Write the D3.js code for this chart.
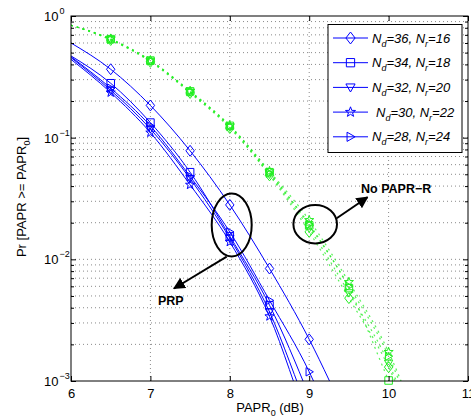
<!DOCTYPE html>
<html>
<head>
<meta charset="utf-8">
<script src="https://cdn.jsdelivr.net/npm/d3@7"></script>
<style>
  body { margin: 0; background: #fff; }
  text { font-family: "Liberation Sans", Arial, sans-serif; }
</style>
</head>
<body>
<script>
// PAPR thresholds (dB)
let xs = [6, 6.5, 7, 7.5, 8, 8.5, 9, 9.5]
let xsNo = [6, 6.5, 7, 7.5, 8, 8.5, 9, 9.5, 10, 10.5]

// PRP curves
let prpDia  = [0.60, 0.365, 0.184, 0.078, 0.028, 0.0084, 0.0022, 0.00045]
let prpSq   = [0.47, 0.280, 0.133, 0.052, 0.0155, 0.0042, 0.00075, 0.0001]
let prpTriD = [0.455, 0.245, 0.118, 0.046, 0.0149, 0.0037, 0.00055, 0.0001]
let prpStar = [0.44, 0.235, 0.110, 0.041, 0.0139, 0.0034, 0.00045, 0.0001]
let prpTriR = [0.462, 0.255, 0.125, 0.048, 0.0168, 0.0046, 0.00119, 0.0002]

// no PAPR reduction
let noDia  = [0.84, 0.635, 0.420, 0.233, 0.120, 0.049, 0.0168, 0.0048, 0.0013, 0.0002]
let noSq   = [0.84, 0.645, 0.430, 0.240, 0.125, 0.052, 0.0190, 0.0058, 0.00101, 0.00018]
let noTriD = [0.84, 0.640, 0.425, 0.236, 0.122, 0.050, 0.0180, 0.0053, 0.0014, 0.0002]
let noStar = [0.84, 0.650, 0.432, 0.242, 0.126, 0.053, 0.0210, 0.0065, 0.00173, 0.00025]
let noTriR = [0.84, 0.642, 0.428, 0.238, 0.124, 0.051, 0.0195, 0.0060, 0.0016, 0.00022]

let legendNd = ['36', '34', '32', '30', '28']
let legendNr = ['16', '18', '20', '22', '24']
let shapes = ['diamond', 'square', 'triDown', 'star', 'triRight']

let xTicks = [6, 7, 8, 9, 10, 11]
let yTicks = [1e-3, 1e-2, 1e-1, 1]
let yExp = ['-3', '-2', '-1', '0']

let W = 471, H = 420
let L = 71, R = 468, T = 16, B = 381

let x = d3.scaleLinear().domain([6, 11]).range([L, R])
let y = d3.scaleLog().domain([1e-3, 1]).range([B, T])

let minor = []
for (let k = -3; k < 0; k++) {
    for (let m = 2; m <= 9; m++) minor.push(m * Math.pow(10, k))
}

let svg = d3.select('body').append('svg')
    .attr('width', W).attr('height', H)

let defs = svg.append('defs')
defs.append('clipPath').attr('id', 'clip')
    .append('rect').attr('x', L).attr('y', T).attr('width', R - L).attr('height', B - T)
defs.append('marker').attr('id', 'arrow')
    .attr('viewBox', '0 0 10 10').attr('refX', 9).attr('refY', 5)
    .attr('markerWidth', 6).attr('markerHeight', 6)
    .attr('markerUnits', 'strokeWidth')
    .attr('orient', 'auto')
    .append('path').attr('d', 'M0,0 L10,5 L0,10 z').attr('fill', '#000')

svg.append('rect').attr('x', L).attr('y', T).attr('width', R - L).attr('height', B - T)
    .attr('fill', '#fff')

// grid
let grid = svg.append('g').attr('stroke', '#8a8a8a').attr('stroke-dasharray', '1,3').attr('stroke-width', 1)
grid.selectAll('.gx').data([7, 8, 9, 10]).enter().append('line')
    .attr('x1', d => x(d)).attr('x2', d => x(d)).attr('y1', T).attr('y2', B)
grid.selectAll('.gy').data(minor.concat([1e-2, 1e-1])).enter().append('line')
    .attr('x1', L).attr('x2', R).attr('y1', d => y(d)).attr('y2', d => y(d))

// symbols
let symbolPath = (shape, s) => {
    if (shape == 'diamond') return `M0,${-s * 1.3}L${s},0L0,${s * 1.3}L${-s},0Z`
    if (shape == 'square') return `M${-s * 0.9},${-s * 0.9}h${s * 1.8}v${s * 1.8}h${-s * 1.8}Z`
    if (shape == 'triDown') return `M${-s},${-s * 0.75}L${s},${-s * 0.75}L0,${s * 1.0}Z`
    if (shape == 'triRight') return `M${-s * 0.75},${-s}L${s * 1.0},0L${-s * 0.75},${s}Z`
    if (shape == 'star') {
        let pts = []
        for (let i = 0; i < 10; i++) {
            let r = i % 2 == 0 ? s * 1.15 : s * 0.47
            let a = -Math.PI / 2 + i * Math.PI / 5
            pts.push([r * Math.cos(a), r * Math.sin(a)])
        }
        return 'M' + pts.map(p => p.join(',')).join('L') + 'Z'
    }
}

let line = d3.line().x(d => x(d[0])).y(d => y(d[1])).curve(d3.curveMonotoneX)

let drawSeries = (xv, vals, shape, color, dotted) => {
    let pts = xv.map((d, i) => [d, vals[i]])
    svg.append('path')
        .attr('clip-path', 'url(#clip)')
        .attr('d', line(pts))
        .attr('fill', 'none')
        .attr('stroke', color)
        .attr('stroke-width', dotted ? 1.2 : 1)
        .attr('stroke-dasharray', dotted ? '2,4' : null)
        .attr('stroke-opacity', dotted ? 0.75 : 1)
    svg.append('g').selectAll('path')
        .data(pts.filter(d => d[0] >= 6.5 && d[0] <= 10 && d[1] >= 0.00098))
        .enter().append('path')
        .attr('transform', d => `translate(${x(d[0])},${y(d[1])})`)
        .attr('d', symbolPath(shape, 4.2))
        .attr('fill', 'none')
        .attr('stroke', color)
        .attr('stroke-width', 1)
}

let green = '#22ee22'
let blue = '#0000ff'
let noSets = [noDia, noSq, noTriD, noStar, noTriR]
let prpSets = [prpDia, prpSq, prpTriD, prpStar, prpTriR]
noSets.forEach((v, i) => drawSeries(xsNo, v, shapes[i], green, true))
prpSets.forEach((v, i) => drawSeries(xs, v, shapes[i], blue, false))

// axes box and ticks (inside)
let axes = svg.append('g')
let xAxis = axes.append('g').attr('transform', `translate(0,${B})`)
    .call(d3.axisBottom(x).tickValues(xTicks).tickSize(-5).tickPadding(8).tickFormat(d3.format('d')))
axes.append('g').attr('transform', `translate(0,${T})`)
    .call(d3.axisTop(x).tickValues(xTicks).tickSize(-5).tickFormat(''))
let yAxis = axes.append('g').attr('transform', `translate(${L},0)`)
    .call(d3.axisLeft(y).tickValues(yTicks).tickSize(-5).tickFormat(''))
axes.append('g').attr('transform', `translate(${R},0)`)
    .call(d3.axisRight(y).tickValues(yTicks).tickSize(-5).tickFormat(''))
axes.append('g').attr('transform', `translate(${L},0)`)
    .call(d3.axisLeft(y).tickValues(minor).tickSize(-3).tickFormat(''))
axes.append('g').attr('transform', `translate(${R},0)`)
    .call(d3.axisRight(y).tickValues(minor).tickSize(-3).tickFormat(''))
axes.selectAll('.domain').remove()
axes.selectAll('line').attr('stroke', '#000')
xAxis.selectAll('text').attr('font-size', 13).attr('fill', '#000')
    .attr('font-family', '"Liberation Sans", Arial, sans-serif')

svg.append('rect').attr('x', L).attr('y', T).attr('width', R - L).attr('height', B - T)
    .attr('fill', 'none').attr('stroke', '#000').attr('stroke-width', 1)

// y tick labels 10^k
let ylab = svg.append('g')
yTicks.forEach((d, i) => {
    let t = ylab.append('text').attr('x', 44).attr('y', y(d) + 5).attr('font-size', 13)
    t.append('tspan').text('10')
    t.append('tspan').attr('font-size', 9).attr('dy', -7).attr('dx', 1).text(yExp[i].replace('-', '\u2212'))
})

// axis titles
let xl = svg.append('text').attr('x', 270).attr('y', 412).attr('text-anchor', 'middle').attr('font-size', 13)
xl.append('tspan').text('PAPR')
xl.append('tspan').attr('font-size', 9).attr('dy', 4).text('0')
xl.append('tspan').attr('dy', -4).text(' (dB)')

let yl = svg.append('text').attr('transform', 'translate(26,197) rotate(-90)')
    .attr('text-anchor', 'middle').attr('font-size', 13)
yl.append('tspan').text('Pr [PAPR >= PAPR')
yl.append('tspan').attr('font-size', 9).attr('dy', 4).text('0')
yl.append('tspan').attr('dy', -4).text(']')

// annotations
let ann = svg.append('g').attr('fill', 'none').attr('stroke', '#000').attr('stroke-width', 2)
ann.append('ellipse').attr('cx', 231.7).attr('cy', 225).attr('rx', 20).attr('ry', 31.5)
ann.append('ellipse').attr('cx', 315.2).attr('cy', 224.2).attr('rx', 21.8).attr('ry', 19.2)
ann.append('line').attr('x1', 226.7).attr('y1', 256.7).attr('x2', 174).attr('y2', 288.5)
    .attr('marker-end', 'url(#arrow)')
ann.append('line').attr('x1', 336.7).attr('y1', 218.3).attr('x2', 367.5).attr('y2', 197.2)
    .attr('marker-end', 'url(#arrow)')
svg.append('text').attr('x', 158).attr('y', 305).attr('font-size', 12.5).attr('font-weight', 'bold').text('PRP')
svg.append('text').attr('x', 361).attr('y', 192.5).attr('font-size', 12.5).attr('font-weight', 'bold').text('No PAPR\u2212R')

// legend
let lg = svg.append('g')
lg.append('rect').attr('x', 328).attr('y', 24.5).attr('width', 134).attr('height', 128)
    .attr('fill', '#fff').attr('stroke', '#000').attr('stroke-width', 1)
legendNd.forEach((nd, i) => {
    let ly = 38 + i * 24.7
    lg.append('line').attr('x1', 333).attr('x2', 368).attr('y1', ly).attr('y2', ly)
        .attr('stroke', blue).attr('stroke-width', 1)
    lg.append('path').attr('transform', `translate(350.5,${ly})`)
        .attr('d', symbolPath(shapes[i], 4.6))
        .attr('fill', 'none').attr('stroke', blue)
    let t = lg.append('text').attr('x', i == 3 ? 376 : 372).attr('y', ly + 4.5)
        .attr('font-size', 13).attr('font-style', 'italic')
    t.append('tspan').text('N')
    t.append('tspan').attr('font-size', 9).attr('dy', 4).text('d')
    t.append('tspan').attr('dy', -4).text(`=${nd}, N`)
    t.append('tspan').attr('font-size', 9).attr('dy', 4).text('r')
    t.append('tspan').attr('dy', -4).text(`=${legendNr[i]}`)
})
</script>
</body>
</html>
